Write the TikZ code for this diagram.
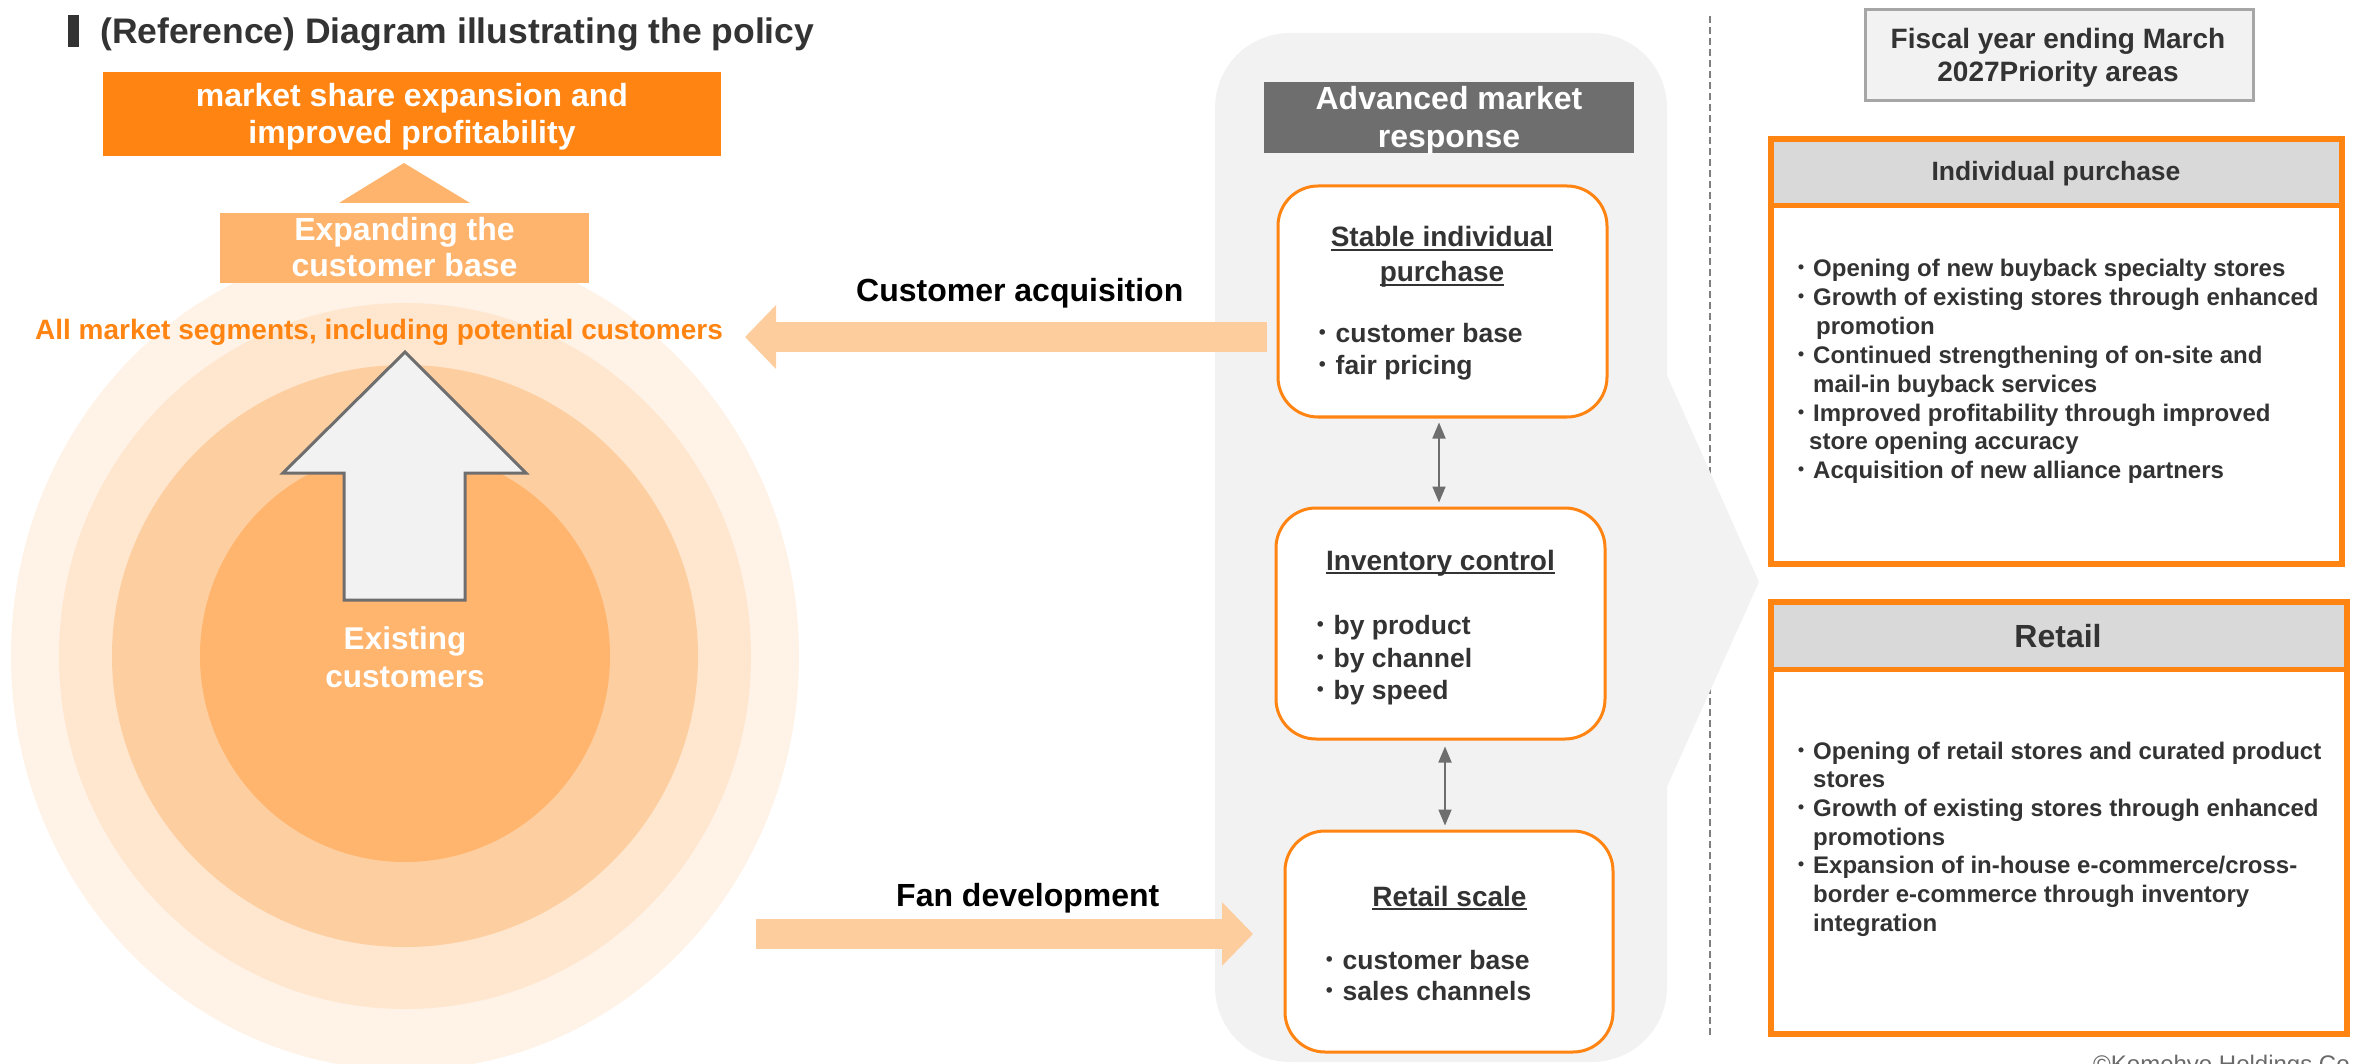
\documentclass[tikz,border=0pt]{standalone}
\usepackage{fontspec}
\setmainfont{Liberation Sans}
\newfontfamily\cjk{Noto Sans CJK JP}
\usetikzlibrary{arrows.meta}
\definecolor{orgA}{HTML}{FF8412}
\definecolor{orgB}{HTML}{FFB46E}
\definecolor{orgArrow}{HTML}{FDCD9E}
\definecolor{ringA}{HTML}{FFF2E6}
\definecolor{ringB}{HTML}{FFE6CF}
\definecolor{ringC}{HTML}{FDCE9F}
\definecolor{ringD}{HTML}{FFB56E}
\definecolor{panelgray}{HTML}{F2F2F2}
\definecolor{dgray}{HTML}{6E6E6E}
\definecolor{txtc}{HTML}{333333}
\definecolor{hdrgray}{HTML}{D9D9D9}
\definecolor{boxline}{HTML}{A6A6A6}
\definecolor{dashc}{HTML}{7F7F7F}
\definecolor{copyc}{HTML}{6A6A6A}
\newcommand\fsz[1]{\fontsize{#1pt}{#1pt}\selectfont}
\newcommand\bul{{\cjk\mdseries ・}}
\begin{document}
\begin{tikzpicture}[x=1pt,y=-1pt,
  lbl/.style={inner sep=0pt, anchor=base, font=\bfseries\fsz{#1}},
  lblw/.style={inner sep=0pt, anchor=base west, font=\bfseries\fsz{#1}},
  roundbox/.style={draw=orgA, line width=3pt, fill=white, rounded corners=40pt, inner sep=0pt},
  blockarrow/.style={draw=orgArrow, line width=30pt, -{Triangle[length=31pt,width=62pt]}},
  dblarrow/.style={draw=dgray, line width=1.8pt, {Triangle[length=16pt,width=13pt]}-{Triangle[length=16pt,width=13pt]}},
  uline/.style={draw=txtc, line width=2pt}]
\useasboundingbox (0,0) rectangle (2356,1064);
\clip (0,0) rectangle (2356,1064);

% ---------- title ----------
\fill[txtc] (68,15) rectangle (79,47);
\node[lblw=35.5, text=txtc] (title) at (100,44) {(Reference) Diagram illustrating the policy};

% ---------- rings ----------
\fill[ringA] (405,656) ellipse [x radius=394, y radius=414];
\fill[ringB] (405,656) ellipse [x radius=346, y radius=353];
\fill[ringC] (405,656) ellipse [x radius=293, y radius=291];
\fill[ringD] (405,656) ellipse [x radius=205, y radius=206];

% ---------- goal boxes ----------
\node[fill=orgA, minimum width=618pt, minimum height=84pt, inner sep=0pt] (goal) at (412,114) {};
\node[lbl=32, text=white] (goal1) at (412,107) {market share expansion and};
\node[lbl=32, text=white] (goal2) at (412,144) {improved profitability};
\fill[orgB] (404,163) -- (470,203) -- (339,203) -- cycle;
\node[fill=orgB, minimum width=369pt, minimum height=70pt, inner sep=0pt] (expand) at (404.5,248) {};
\node[lbl=32, text=white] (expand1) at (404.5,241) {Expanding the};
\node[lbl=32, text=white] (expand2) at (404.5,277) {customer base};

% ---------- segments text and up arrow ----------
\node[lblw=28, text=orgA] (seg) at (35,340) {All market segments, including potential customers};
\draw[fill=panelgray, draw=dgray, line width=3pt, line join=miter]
  (405,352) -- (526,473) -- (465,473) -- (465,600) -- (344,600) -- (344,473) -- (283,473) -- cycle;
\node[lbl=31.5, text=white] (exist1) at (405,649) {Existing};
\node[lbl=31.5, text=white] (exist2) at (405,687) {customers};

% ---------- dashed divider ----------
\draw[dashc, line width=1.5pt, dash pattern=on 7pt off 4pt] (1710,16) -- (1710,1038);

% ---------- middle panel ----------
\fill[panelgray, rounded corners=75pt] (1215,33) rectangle (1667,1062);
\fill[panelgray] (1666,373) -- (1759,582) -- (1666,789) -- cycle;
\node[fill=dgray, minimum width=370pt, minimum height=71pt, inner sep=0pt] (adv) at (1449,117.5) {};
\node[lbl=32, text=white] (adv1) at (1449,110) {Advanced market};
\node[lbl=32, text=white] (adv2) at (1449,148) {response};

% ---------- flow arrows ----------
\coordinate (caTail) at (1267,337);
\coordinate (caTip) at (745,337);
\draw[blockarrow] (caTail) -- (caTip);
\node[lblw=32, text=black] (catext) at (856,302) {Customer acquisition};
\coordinate (fdTail) at (756,934);
\coordinate (fdTip) at (1253,934);
\draw[blockarrow] (fdTail) -- (fdTip);
\node[lblw=32, text=black] (fdtext) at (896,906) {Fan development};

% ---------- rounded boxes ----------
\node[roundbox, minimum width=329pt, minimum height=231pt] (sip) at (1442.5,301.5) {};
\node[lbl=28, text=txtc] (sipT1) at (1442,247) {Stable individual};
\node[lbl=28, text=txtc] (sipT2) at (1442,282) {purchase};
\draw[uline] ([yshift=-3pt]sipT1.base west) -- ([yshift=-3pt]sipT1.base east);
\draw[uline] ([yshift=-3pt]sipT2.base west) -- ([yshift=-3pt]sipT2.base east);
\node[lblw=26.5, text=txtc] (sipB1) at (1309,343) {\bul customer base};
\node[lblw=26.5, text=txtc] (sipB2) at (1309,375) {\bul fair pricing};

\node[roundbox, minimum width=329pt, minimum height=231pt] (inv) at (1440.5,623.5) {};
\node[lbl=28, text=txtc] (invT) at (1440.5,570) {Inventory control};
\draw[uline] ([yshift=-3pt]invT.base west) -- ([yshift=-3pt]invT.base east);
\node[lblw=26.5, text=txtc] (invB1) at (1307,634) {\bul by product};
\node[lblw=26.5, text=txtc] (invB2) at (1307,667) {\bul by channel};
\node[lblw=26.5, text=txtc] (invB3) at (1307,699) {\bul by speed};

\node[roundbox, minimum width=328pt, minimum height=221pt] (rs) at (1449,941.5) {};
\node[lbl=28, text=txtc] (rsT) at (1449.5,906) {Retail scale};
\draw[uline] ([yshift=-3pt]rsT.base west) -- ([yshift=-3pt]rsT.base east);
\node[lblw=26.5, text=txtc] (rsB1) at (1316,969) {\bul customer base};
\node[lblw=26.5, text=txtc] (rsB2) at (1316,1000) {\bul sales channels};

\draw[dblarrow, shorten <=4pt, shorten >=4pt] ([xshift=-3.5pt]sip.south) -- ([xshift=-1.5pt]inv.north);
\draw[dblarrow, shorten <=6pt, shorten >=4pt] ([xshift=4.5pt]inv.south) -- ([xshift=-4pt]rs.north);

% ---------- right side ----------
\node[fill=panelgray, draw=boxline, line width=3pt, minimum width=388pt, minimum height=91pt, inner sep=0pt] (fy) at (2059,55.5) {};
\node[lbl=28, text=txtc] (fy1) at (2058,49) {Fiscal year ending March};
\node[lbl=28, text=txtc] (fy2) at (2058,81.5) {2027Priority areas};

% Individual purchase panel
\fill[hdrgray] (1771,139) rectangle (2342,205);
\draw[orgA, line width=6pt] (1771,139) rectangle (2342,564);
\draw[orgA, line width=5pt] (1771,205.5) -- (2342,205.5);
\node[lbl=26.5, text=txtc] (ipH) at (2056,181) {Individual purchase};
\node[lblw=24, text=txtc] (ip1) at (1789,277) {\bul Opening of new buyback specialty stores};
\node[lblw=24, text=txtc] (ip2) at (1789,305.8) {\bul Growth of existing stores through enhanced};
\node[lblw=24, text=txtc] (ip3) at (1816,334.6) {promotion};
\node[lblw=24, text=txtc] (ip4) at (1789,363.4) {\bul Continued strengthening of on-site and};
\node[lblw=24, text=txtc] (ip5) at (1813,392.2) {mail-in buyback services};
\node[lblw=24, text=txtc] (ip6) at (1789,421) {\bul Improved profitability through improved};
\node[lblw=24, text=txtc] (ip7) at (1809,449.8) {store opening accuracy};
\node[lblw=24, text=txtc] (ip8) at (1789,478.6) {\bul Acquisition of new alliance partners};

% Retail panel
\fill[hdrgray] (1771,601.5) rectangle (2347,669);
\draw[orgA, line width=6pt] (1771,601.5) rectangle (2347,1034);
\draw[orgA, line width=5pt] (1771,669) -- (2347,669);
\node[lbl=32, text=txtc] (rtH) at (2058,647) {Retail};
\node[lblw=24, text=txtc] (rt1) at (1789,759) {\bul Opening of retail stores and curated product};
\node[lblw=24, text=txtc] (rt2) at (1813,787.7) {stores};
\node[lblw=24, text=txtc] (rt3) at (1789,816.4) {\bul Growth of existing stores through enhanced};
\node[lblw=24, text=txtc] (rt4) at (1813,845.1) {promotions};
\node[lblw=24, text=txtc] (rt5) at (1789,873.8) {\bul Expansion of in-house e-commerce/cross-};
\node[lblw=24, text=txtc] (rt6) at (1813,902.5) {border e-commerce through inventory};
\node[lblw=24, text=txtc] (rt7) at (1813,931.2) {integration};

% copyright
\node[inner sep=0pt, anchor=base west, font=\fsz{24}, text=copyc] (copy) at (2093,1072) {©Komehyo Holdings Co};
\end{tikzpicture}
\end{document}
